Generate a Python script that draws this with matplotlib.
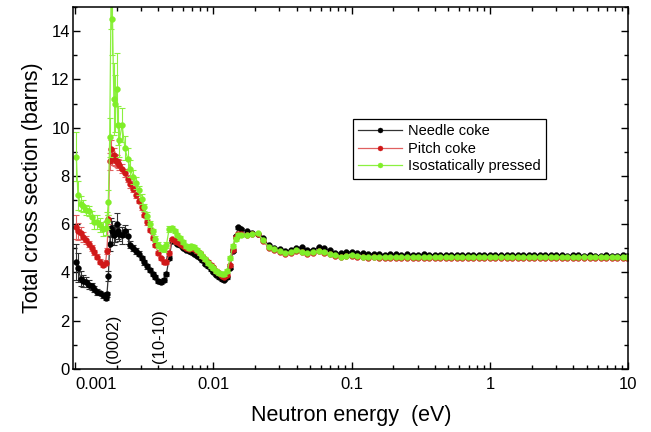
import matplotlib
matplotlib.use("Agg")
import matplotlib.pyplot as plt
from matplotlib.ticker import MultipleLocator, LogLocator, NullFormatter, FixedLocator, FixedFormatter

plt.rcParams['font.family'] = ['Liberation Sans', 'DejaVu Sans']

# ---------------- data ----------------
energy_low = [0.00102, 0.001047, 0.001096, 0.001148, 0.001202, 0.001259, 0.001318, 0.001380, 0.001445, 0.001514,
              0.001585, 0.001660, 0.001698, 0.001738, 0.001778, 0.001820, 0.001862, 0.001905, 0.001950, 0.001995,
              0.002042, 0.002089, 0.002188, 0.002291, 0.002399, 0.002512, 0.002630, 0.002754, 0.002884, 0.003020,
              0.003162, 0.003311, 0.003467, 0.003631, 0.003802, 0.003981, 0.004169, 0.004365, 0.004571, 0.004786,
              0.005012, 0.005248, 0.005495, 0.005754, 0.006026, 0.006310, 0.006607, 0.006918, 0.007244, 0.007586,
              0.007943, 0.008318, 0.008710, 0.009120, 0.009550, 0.01000, 0.01047, 0.01096, 0.01148, 0.01202,
              0.01259, 0.01318, 0.01380, 0.01445, 0.01514, 0.01585]
energy_mid = [0.01738, 0.01905, 0.02089, 0.02291, 0.02512, 0.02754, 0.03020, 0.03311, 0.03631, 0.03981,
              0.04365, 0.04786, 0.05248, 0.05754, 0.06310, 0.06918, 0.07586, 0.08318, 0.09120, 0.1000]
energy_high = [0.1096, 0.1202, 0.1318, 0.1445, 0.1585, 0.1738, 0.1905, 0.2089, 0.2291, 0.2512,
               0.2754, 0.3020, 0.3311, 0.3631, 0.3981, 0.4365, 0.4786, 0.5248, 0.5754, 0.6310,
               0.6918, 0.7586, 0.8318, 0.9120, 1.000, 1.096, 1.202, 1.318, 1.445, 1.585,
               1.738, 1.905, 2.089, 2.291, 2.512, 2.754, 3.020, 3.311, 3.631, 3.981,
               4.365, 4.786, 5.248, 5.754, 6.310, 6.918, 7.586, 8.318, 9.120, 9.772]

needle_low = [4.45, 4.2, 3.75, 3.65, 3.6, 3.5, 3.42, 3.3, 3.2, 3.15,
              3.05, 2.95, 3.1, 3.85, 5.2, 5.85, 5.7, 5.55, 5.6, 6.0,
              5.7, 5.6, 5.55, 5.7, 5.5, 5.15, 5.0, 4.9, 4.78, 4.6,
              4.42, 4.25, 4.12, 3.95, 3.82, 3.65, 3.62, 3.7, 3.95, 4.6,
              5.3, 5.3, 5.2, 5.12, 5.02, 4.95, 4.9, 4.85, 4.78, 4.7,
              4.6, 4.5, 4.37, 4.26, 4.13, 4.02, 3.9, 3.8, 3.72, 3.69,
              3.8, 4.2, 4.9, 5.5, 5.88, 5.8]
needle_mid = [5.72, 5.62, 5.6, 5.42, 5.12, 5.03, 4.97, 4.87, 4.92, 5.02,
              5.05, 4.95, 4.93, 5.05, 5.0, 4.92, 4.82, 4.79, 4.83, 4.86]
needle_high = [4.82, 4.79, 4.76, 4.78, 4.76, 4.74, 4.76, 4.75, 4.73, 4.75,
               4.74, 4.73, 4.75, 4.74, 4.73, 4.74, 4.73, 4.74, 4.73, 4.72,
               4.73, 4.72, 4.73, 4.72, 4.72, 4.73, 4.72, 4.71, 4.72, 4.72,
               4.71, 4.72, 4.71, 4.72, 4.71, 4.71, 4.72, 4.71, 4.70, 4.71,
               4.71, 4.70, 4.71, 4.70, 4.70, 4.71, 4.70, 4.70, 4.71, 4.70]
needle_err = [0.75, 0.6, 0.3, 0.25, 0.2, 0.18, 0.15, 0.12, 0.12, 0.1,
              0.1, 0.1, 0.1, 0.2, 0.3, 0.4, 0.45, 0.4, 0.35, 0.45,
              0.3, 0.3, 0.35, 0.25, 0.3, 0.15, 0.12, 0.12, 0.1, 0.1,
              0.1, 0.1, 0.08, 0.08, 0.08, 0.08, 0.08, 0.08, 0.08, 0.08,
              0.06, 0.06, 0.06, 0.06, 0.06, 0.06, 0.06, 0.06, 0.06, 0.06,
              0.06, 0.06, 0.06, 0.06, 0.06, 0.06, 0.06, 0.06, 0.06, 0.06,
              0.06, 0.06, 0.06, 0.06, 0.06, 0.06]

pitch_low = [5.9, 5.7, 5.62, 5.48, 5.35, 5.18, 5.02, 4.83, 4.65, 4.45,
             4.33, 4.4, 4.9, 6.2, 8.6, 9.1, 8.75, 8.85, 8.65, 8.6,
             8.52, 8.45, 8.3, 8.12, 7.88, 7.65, 7.45, 7.2, 6.98, 6.7,
             6.4, 6.08, 5.75, 5.42, 5.12, 4.82, 4.58, 4.42, 4.42, 4.8,
             5.38, 5.32, 5.25, 5.2, 5.1, 5.02, 4.98, 5.0, 4.98, 4.88,
             4.8, 4.68, 4.55, 4.45, 4.33, 4.22, 4.08, 3.96, 3.87, 3.83,
             3.9, 4.3, 4.95, 5.45, 5.6, 5.58]
pitch_mid = [5.55, 5.58, 5.58, 5.3, 5.02, 4.93, 4.85, 4.77, 4.8, 4.88,
             4.85, 4.78, 4.8, 4.88, 4.82, 4.75, 4.68, 4.65, 4.68, 4.7]
pitch_high = [4.66, 4.64, 4.62, 4.63, 4.62, 4.61, 4.62, 4.61, 4.60, 4.61,
              4.61, 4.60, 4.61, 4.60, 4.60, 4.61, 4.60, 4.60, 4.61, 4.60,
              4.60, 4.61, 4.60, 4.60, 4.61, 4.60, 4.60, 4.61, 4.60, 4.60,
              4.61, 4.60, 4.60, 4.61, 4.60, 4.60, 4.61, 4.60, 4.60, 4.61,
              4.60, 4.60, 4.61, 4.60, 4.60, 4.61, 4.60, 4.60, 4.61, 4.60]
pitch_err = [0.5, 0.35, 0.25, 0.2, 0.15, 0.12, 0.12, 0.1, 0.1, 0.1,
             0.1, 0.1, 0.12, 0.2, 0.35, 0.4, 0.3, 0.3, 0.25, 0.25,
             0.2, 0.2, 0.18, 0.15, 0.15, 0.15, 0.12, 0.12, 0.1, 0.1,
             0.1, 0.1, 0.08, 0.08, 0.08, 0.08, 0.08, 0.08, 0.08, 0.08,
             0.06, 0.06, 0.06, 0.06, 0.06, 0.06, 0.06, 0.06, 0.06, 0.06,
             0.06, 0.06, 0.06, 0.06, 0.06, 0.06, 0.06, 0.06, 0.06, 0.06,
             0.06, 0.06, 0.06, 0.06, 0.06, 0.06]

iso_low = [8.8, 7.2, 6.85, 6.75, 6.6, 6.55, 6.3, 6.1, 6.1, 5.97,
           5.8, 5.85, 6.15, 6.9, 9.6, 15.6, 14.5, 11.2, 11.0, 11.6,
           10.1, 9.5, 10.1, 9.15, 8.7, 8.3, 7.95, 7.7, 7.4, 7.05,
           6.7, 6.35, 6.0, 5.7, 5.4, 5.15, 5.02, 4.98, 5.15, 5.8,
           5.85, 5.72, 5.55, 5.42, 5.25, 5.1, 5.02, 5.08, 5.05, 4.95,
           4.82, 4.7, 4.55, 4.4, 4.28, 4.17, 4.07, 3.98, 3.93, 3.92,
           4.05, 4.6, 5.1, 5.4, 5.55, 5.55]
iso_mid = [5.55, 5.6, 5.62, 5.35, 5.05, 4.97, 4.88, 4.8, 4.85, 4.92,
           4.86, 4.8, 4.84, 4.88, 4.85, 4.78, 4.72, 4.66, 4.7, 4.72]
iso_high = [4.68, 4.66, 4.64, 4.66, 4.65, 4.64, 4.65, 4.65, 4.64, 4.65,
            4.65, 4.64, 4.65, 4.64, 4.64, 4.65, 4.64, 4.64, 4.65, 4.64,
            4.64, 4.65, 4.64, 4.64, 4.65, 4.64, 4.64, 4.65, 4.64, 4.64,
            4.65, 4.64, 4.64, 4.65, 4.64, 4.64, 4.65, 4.64, 4.64, 4.65,
            4.64, 4.64, 4.65, 4.64, 4.64, 4.65, 4.64, 4.64, 4.65, 4.64]
iso_err = [1.0, 0.6, 0.3, 0.25, 0.2, 0.2, 0.25, 0.3, 0.3, 0.3,
           0.3, 0.3, 0.35, 0.5, 0.8, 1.5, 1.5, 1.5, 1.2, 1.5,
           0.8, 0.7, 0.7, 0.5, 0.45, 0.35, 0.3, 0.25, 0.2, 0.2,
           0.15, 0.15, 0.12, 0.12, 0.12, 0.12, 0.12, 0.12, 0.12, 0.12,
           0.08, 0.08, 0.08, 0.08, 0.08, 0.08, 0.08, 0.08, 0.08, 0.08,
           0.08, 0.08, 0.08, 0.08, 0.08, 0.08, 0.08, 0.08, 0.08, 0.08,
           0.08, 0.08, 0.08, 0.08, 0.08, 0.08]

series_names = ["Needle coke", "Pitch coke", "Isostatically pressed"]
x_ticks = [0.001, 0.01, 0.1, 1, 10]
x_tick_labels = ["0.001", "0.01", "0.1", "1", "10"]
peak_labels = ["(0002)", "(10-10)"]
peak_energies = [0.00189, 0.00405]

# ---------------- figure ----------------
fig = plt.figure(figsize=(6.51, 4.32), dpi=100)
ax = fig.add_axes([0.1126, 0.1458, 0.8525, 0.838])

energy_all = energy_low + energy_mid + energy_high
series = [
    (needle_low + needle_mid + needle_high, needle_err, '#000000', '#333333'),
    (pitch_low + pitch_mid + pitch_high, pitch_err, '#d01818', '#e06060'),
    (iso_low + iso_mid + iso_high, iso_err, '#80ee28', '#8cf040'),
]

for (vals, err, mcol, lcol), name in zip(series, series_names):
    ax.errorbar(energy_low, vals[:len(energy_low)], yerr=err, fmt='none',
                ecolor=lcol, elinewidth=0.8, capsize=2.5, capthick=0.8)
    ax.plot(energy_all, vals, '-', color=lcol, lw=0.9, marker='o', ms=4.2,
            mfc=mcol, mec=mcol, mew=0.3, label=name)

ax.set_xscale('log')
ax.set_xlim(0.00097, 10)
ax.set_ylim(0, 15)

ax.xaxis.set_major_locator(FixedLocator(x_ticks))
ax.xaxis.set_major_formatter(FixedFormatter(x_tick_labels))
ax.xaxis.set_minor_locator(LogLocator(base=10, subs=range(2, 10), numticks=20))
ax.xaxis.set_minor_formatter(NullFormatter())
ax.yaxis.set_major_locator(MultipleLocator(2))
ax.yaxis.set_minor_locator(MultipleLocator(1))

ax.tick_params(which='both', direction='in', top=True, right=True, width=1.0, labelsize=12)
ax.tick_params(which='major', length=5)
ax.tick_params(which='minor', length=2.8)
ax.tick_params(axis='x', pad=6)
ax.tick_params(axis='y', pad=2.5)
for sp in ax.spines.values():
    sp.set_linewidth(1.1)

lbls = ax.get_xticklabels()
lbls[0].set_horizontalalignment('left')

ax.set_xlabel("Neutron energy  (eV)", fontsize=15.5, labelpad=9)
ax.set_ylabel("Total cross section (barns)", fontsize=15.5, labelpad=6)

for lab, e in zip(peak_labels, peak_energies):
    ax.text(e, 0.25, lab, rotation=90, ha='center', va='bottom', fontsize=12)

leg = ax.legend(loc='upper left', bbox_to_anchor=(0.504, 0.6906), fontsize=10.5,
                frameon=True, fancybox=False, edgecolor='black', framealpha=1,
                handlelength=3.0, handletextpad=0.4, borderpad=0.35, labelspacing=0.25,
                borderaxespad=0, markerscale=0.85)
leg.get_frame().set_linewidth(0.9)

fig.savefig("out.png", dpi=100)
